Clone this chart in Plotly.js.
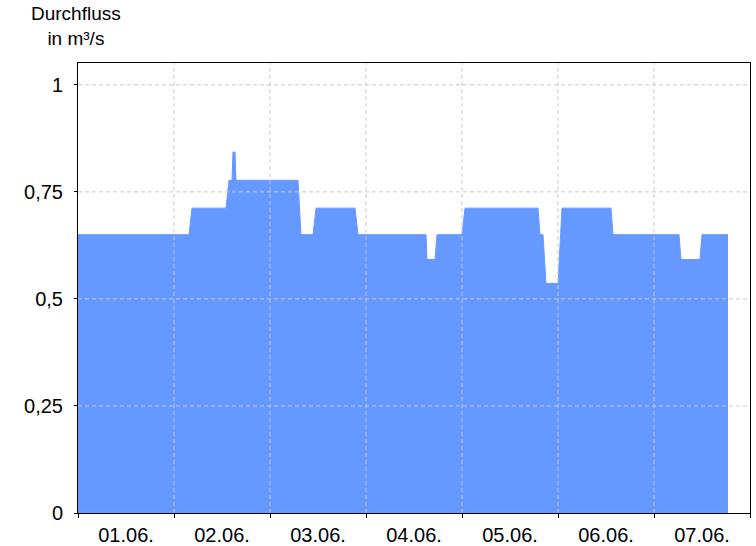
<!DOCTYPE html>
<html>
<head>
<meta charset="utf-8">
<script src="https://cdn.plot.ly/plotly-3.0.1.min.js"></script>
<style>html,body{margin:0;padding:0;background:#fff;}#chart{width:756px;height:546px;}</style>
</head>
<body>
<div id="chart"></div>
<script>
// Discharge time series (timestamp, m³/s)
const times = [
  '2024-06-01 00:00','2024-06-02 03:45','2024-06-02 04:30','2024-06-02 13:00','2024-06-02 13:45',
  '2024-06-02 14:30','2024-06-02 14:45','2024-06-02 15:15','2024-06-02 15:30','2024-06-03 07:00',
  '2024-06-03 07:45','2024-06-03 10:45','2024-06-03 11:30','2024-06-03 21:15','2024-06-03 22:00',
  '2024-06-04 15:00','2024-06-04 15:15','2024-06-04 17:15','2024-06-04 17:45','2024-06-05 00:00',
  '2024-06-05 00:45','2024-06-05 19:00','2024-06-05 19:30','2024-06-05 20:15','2024-06-05 21:00',
  '2024-06-06 00:00','2024-06-06 01:00','2024-06-06 13:15','2024-06-06 13:45','2024-06-07 06:15',
  '2024-06-07 06:45','2024-06-07 11:30','2024-06-07 12:00','2024-06-07 18:30'
];
const flow = [
  0.65,0.65,0.712,0.712,0.777,
  0.777,0.843,0.843,0.777,0.777,
  0.65,0.65,0.712,0.712,0.65,
  0.65,0.592,0.592,0.65,0.65,
  0.712,0.712,0.65,0.65,0.536,
  0.536,0.712,0.712,0.65,0.65,
  0.592,0.592,0.65,0.65
];
const dayTicks = ['2024-06-02','2024-06-03','2024-06-04','2024-06-05','2024-06-06','2024-06-07'];
const yTickVals = [0,0.25,0.5,0.75,1];
const yTickText = ['0','0,25','0,5','0,75','1'];
const yGrid = [0.25,0.5,0.75,1];

const gridStyle = {color:'#c8c8c8', width:1, dash:'4px,3px'};
const shapes = [];
dayTicks.forEach(d => shapes.push({type:'line', xref:'x', yref:'paper', x0:d, x1:d, y0:0, y1:1, line:gridStyle, layer:'above'}));
yGrid.forEach(v => shapes.push({type:'line', xref:'paper', yref:'y', x0:0, x1:1, y0:v, y1:v, line:gridStyle, layer:'above'}));

const trace = {
  x: times, y: flow, type:'scatter', mode:'lines',
  fill:'tozeroy', fillcolor:'#6699ff',
  line:{color:'#6699ff', width:1, shape:'linear'},
  hoverinfo:'skip'
};

const font = {family:'"Liberation Sans", Arial, sans-serif', size:20, color:'#000'};
const layout = {
  width:756, height:546,
  margin:{l:78, r:6, t:63, b:33},
  paper_bgcolor:'#fff', plot_bgcolor:'#fff',
  showlegend:false,
  font: font,
  xaxis:{
    type:'date', range:['2024-06-01','2024-06-08'],
    tickmode:'linear', tick0:'2024-06-01', dtick:86400000,
    tickformat:'%d.%m.', ticklabelmode:'period',
    ticks:'outside', ticklen:4, tickcolor:'#000',
    showgrid:false, zeroline:false,
    showline:true, linecolor:'#000', linewidth:1, mirror:true,
    tickfont:font, fixedrange:true
  },
  yaxis:{
    range:[0,1.051],
    tickmode:'array', tickvals:yTickVals, ticktext:yTickText,
    ticks:'outside', ticklen:3, tickcolor:'#000', ticklabelstandoff:7,
    showgrid:false, zeroline:false,
    showline:true, linecolor:'#000', linewidth:1, mirror:true,
    tickfont:font, fixedrange:true
  },
  shapes: shapes,
  annotations:[{
    text:'Durchfluss<br>in m³/s', xref:'paper', yref:'paper',
    x:-0.003, y:1, xanchor:'center', yanchor:'bottom', yshift:12,
    showarrow:false, align:'center',
    font:{family:'"Liberation Sans", Arial, sans-serif', size:19, color:'#000'}
  }]
};
Plotly.newPlot('chart', [trace], layout, {staticPlot:true, displayModeBar:false});
</script>
</body>
</html>
